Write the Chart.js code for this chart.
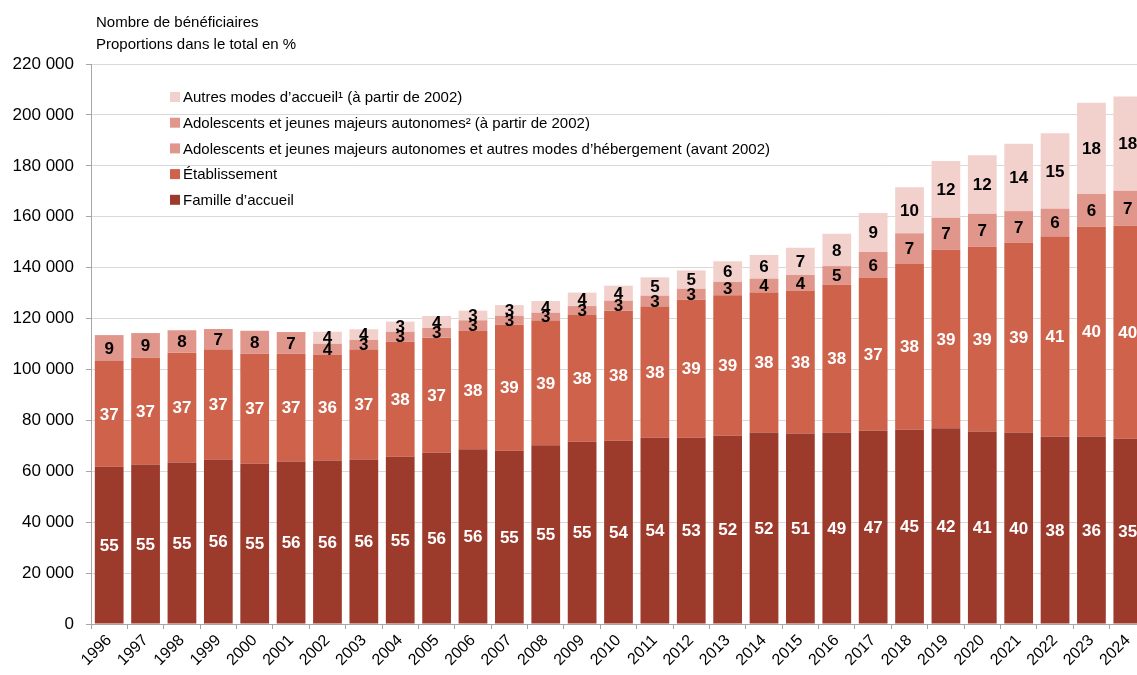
<!DOCTYPE html>
<html>
<head>
<meta charset="utf-8">
<script src="https://cdn.jsdelivr.net/npm/chart.js@4.4.1/dist/chart.umd.min.js"></script>
<style>
  html, body { margin: 0; padding: 0; background: #fff; overflow: hidden; }
  #wrap { position: absolute; left: 0; top: 0; width: 1150px; height: 675px; }
</style>
</head>
<body>
<div id="wrap"><canvas id="c" width="1150" height="675"></canvas></div>
<script>
// ---- Data (numbers of beneficiaries) ----
const years = ['1996','1997','1998','1999','2000','2001','2002','2003','2004','2005','2006','2007','2008','2009','2010','2011','2012','2013','2014','2015','2016','2017','2018','2019','2020','2021','2022','2023','2024'];

const familleAccueil = [61800,62700,63400,64600,63000,63800,64200,64600,65700,67300,68700,68100,70200,71600,72000,73200,73200,74000,75200,74800,75200,75900,76300,76900,75600,75200,73600,73700,72800];
const etablissement  = [41500,41900,43200,43200,43200,42400,41700,43200,45200,45200,46400,49400,49000,49800,51100,51500,54200,55200,55000,56100,58000,60000,65200,70100,72600,74500,78600,82400,83700];
const adolAvant2002  = [10200,9700,8800,8100,9000,8500,null,null,null,null,null,null,null,null,null,null,null,null,null,null,null,null,null,null,null,null,null,null,null];
const adolDepuis2002 = [null,null,null,null,null,null,4200,3800,3900,3800,4200,3600,3100,3500,3900,4300,4300,5200,5500,6200,7400,10300,12000,12600,13000,12500,11000,12800,13700];
const autresModes    = [null,null,null,null,null,null,4700,4200,4000,4700,3800,4200,4600,5300,5900,7200,7200,8100,9300,10700,12700,15300,18100,22300,23000,26500,29600,35900,37000];

// ---- Proportions in the total (%) shown as labels ----
const famillePct = [55,55,55,56,55,56,56,56,55,56,56,55,55,55,54,54,53,52,52,51,49,47,45,42,41,40,38,36,35];
const etabPct    = [37,37,37,37,37,37,36,37,38,37,38,39,39,38,38,38,39,39,38,38,38,37,38,39,39,39,41,40,40];
const adolAvantPct  = [9,9,8,7,8,7,null,null,null,null,null,null,null,null,null,null,null,null,null,null,null,null,null,null,null,null,null,null,null];
const adolDepuisPct = [null,null,null,null,null,null,4,3,3,3,3,3,3,3,3,3,3,3,4,4,5,6,7,7,7,7,6,6,7];
const autresPct     = [null,null,null,null,null,null,4,4,3,4,3,3,4,4,4,5,5,6,6,7,8,9,10,12,12,14,15,18,18];

const yTicksMax = 220000;
const yTickStep = 20000;

const titleLines = ['Nombre de bénéficiaires', 'Proportions dans le total en %'];

const FONT = '"Liberation Sans", Arial, Helvetica, sans-serif';
const C_FAM = '#9C3A2C', C_ETAB = '#CE624B', C_ADOL = '#E0968A', C_AUT = '#F2D1CC';

const datasets = [
  { label: 'Famille d\u2019accueil', data: familleAccueil, backgroundColor: C_FAM, pct: famillePct, txt: '#fff' },
  { label: '\u00c9tablissement', data: etablissement, backgroundColor: C_ETAB, pct: etabPct, txt: '#fff' },
  { label: 'Adolescents et jeunes majeurs autonomes et autres modes d\u2019h\u00e9bergement (avant 2002)', data: adolAvant2002, backgroundColor: C_ADOL, pct: adolAvantPct, txt: '#000' },
  { label: 'Adolescents et jeunes majeurs autonomes\u00b2 (\u00e0 partir de 2002)', data: adolDepuis2002, backgroundColor: C_ADOL, pct: adolDepuisPct, txt: '#000' },
  { label: 'Autres modes d\u2019accueil\u00b9 (\u00e0 partir de 2002)', data: autresModes, backgroundColor: C_AUT, pct: autresPct, txt: '#000' }
].map(d => Object.assign(d, { stack: 's', barPercentage: 0.79, categoryPercentage: 1.0, borderWidth: 0 }));

const fmt = v => String(v).replace(/\B(?=(\d{3})+(?!\d))/g, ' ');

const labelsPlugin = {
  id: 'pctLabels',
  afterDatasetsDraw(chart) {
    const ctx = chart.ctx;
    ctx.save();
    ctx.font = 'bold 17px ' + FONT;
    ctx.textAlign = 'center';
    ctx.textBaseline = 'middle';
    chart.data.datasets.forEach((ds, i) => {
      const meta = chart.getDatasetMeta(i);
      meta.data.forEach((el, j) => {
        const p = ds.pct[j];
        if (p === null || p === undefined || ds.data[j] === null) return;
        ctx.fillStyle = ds.txt;
        ctx.fillText(String(p), el.x, (el.y + el.base) / 2 + 1);
      });
    });
    ctx.restore();
  }
};

const titleLegendPlugin = {
  id: 'titleLegend',
  afterDraw(chart) {
    const ctx = chart.ctx;
    const a = chart.chartArea;
    ctx.save();
    ctx.fillStyle = '#000';
    ctx.font = '15px ' + FONT;
    ctx.textAlign = 'left';
    ctx.textBaseline = 'alphabetic';
    ctx.fillText(titleLines[0], a.left + 5, 27);
    ctx.fillText(titleLines[1], a.left + 5, 49);
    // legend (reverse order of stacking)
    const items = chart.data.datasets.slice().reverse();
    const x0 = a.left + 79, y0 = a.top + 33, rowH = 25.7;
    ctx.textBaseline = 'middle';
    items.forEach((ds, k) => {
      const yc = y0 + k * rowH;
      ctx.fillStyle = ds.backgroundColor;
      ctx.fillRect(x0, yc - 5, 10, 10);
      ctx.fillStyle = '#000';
      ctx.fillText(ds.label, x0 + 13, yc + 1);
    });
    ctx.restore();
  }
};

new Chart(document.getElementById('c'), {
  type: 'bar',
  data: { labels: years, datasets },
  options: {
    responsive: false,
    devicePixelRatio: 1,
    animation: false,
    layout: { padding: { top: 64, right: 4, left: 0, bottom: 0 } },
    plugins: { legend: { display: false }, tooltip: { enabled: false }, title: { display: false } },
    scales: {
      x: {
        stacked: true,
        grid: { display: true, drawOnChartArea: false, drawTicks: true, tickLength: 5, tickColor: '#A6A6A6', offset: true },
        border: { display: true, color: '#A6A6A6', width: 1 },
        ticks: { color: '#000', font: { family: FONT, size: 16 }, maxRotation: 45, minRotation: 45, autoSkip: false, padding: 2 },
        afterFit(s) { s.height = 51; }
      },
      y: {
        stacked: true,
        min: 0, max: yTicksMax,
        grid: { color: '#D9D9D9', lineWidth: 1, tickColor: '#A6A6A6', tickLength: 5, drawTicks: true },
        border: { display: true, color: '#A6A6A6', width: 1 },
        ticks: { stepSize: yTickStep, color: '#000', font: { family: FONT, size: 17 }, padding: 12, callback: v => fmt(v) },
        afterFit(s) { s.width = 91; }
      }
    }
  },
  plugins: [labelsPlugin, titleLegendPlugin]
});
</script>
</body>
</html>
